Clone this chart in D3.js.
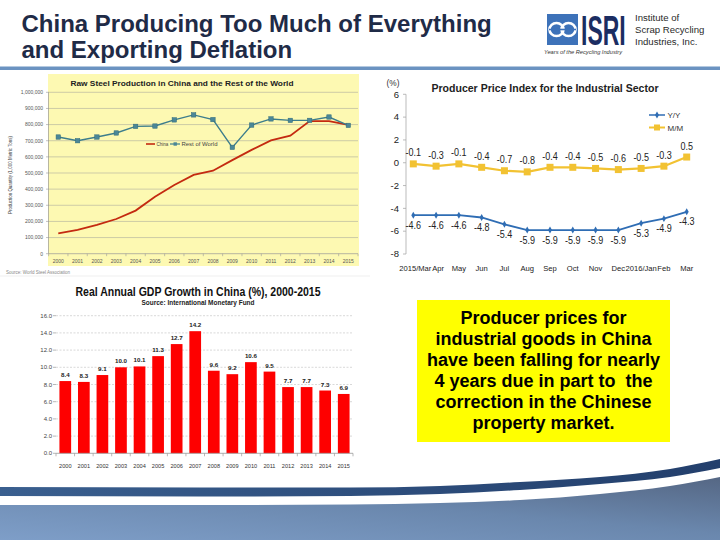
<!DOCTYPE html>
<html><head><meta charset="utf-8">
<script src="https://cdn.jsdelivr.net/npm/d3@7"></script>
<style>body{margin:0;background:#fff}svg{display:block}</style>
</head><body>
<svg id="c" width="720" height="540"></svg>
<script>
// ---------- data ----------
const titleLines = ["China Producing Too Much of Everything", "and Exporting Deflation"];
const logoLines = ["Institute of", "Scrap Recycling", "Industries, Inc."];

const steelYears = ["2000","2001","2002","2003","2004","2005","2006","2007","2008","2009","2010","2011","2012","2013","2014","2015"];
const steelChina = [126000,147000,178000,215000,267000,353000,426000,488000,514000,580000,643000,702000,731000,822000,822000,798000];
const steelRest  = [723000,700000,723000,748000,789000,791000,829000,860000,831000,659000,797000,835000,826000,826000,847000,795000];
const steelTicks = [0,100000,200000,300000,400000,500000,600000,700000,800000,900000,1000000];
const steelSeries = ["China", "Rest of World"];

const gdpYears = ["2000","2001","2002","2003","2004","2005","2006","2007","2008","2009","2010","2011","2012","2013","2014","2015"];
const gdpValues = [8.4,8.3,9.1,10.0,10.1,11.3,12.7,14.2,9.6,9.2,10.6,9.5,7.7,7.7,7.3,6.9];
const gdpTicks = [0,2,4,6,8,10,12,14,16];

const ppiMonths = ["2015/Mar","Apr","May","Jun","Jul","Aug","Sep","Oct","Nov","Dec","2016/Jan","Feb","Mar"];
const ppiYoY = [-4.6,-4.6,-4.6,-4.8,-5.4,-5.9,-5.9,-5.9,-5.9,-5.9,-5.3,-4.9,-4.3];
const ppiMoM = [-0.1,-0.3,-0.1,-0.4,-0.7,-0.8,-0.4,-0.4,-0.5,-0.6,-0.5,-0.3,0.5];
const ppiTicks = [-8,-6,-4,-2,0,2,4,6];
const ppiSeries = ["Y/Y", "M/M"];

const noteLines = ["Producer prices for","industrial goods in China","have been falling for nearly","4 years due in part to  the","correction in the Chinese","property market."];

// ---------- setup ----------
const svg = d3.select("#c");
const FONT = "Liberation Sans, Arial, sans-serif";
const defs = svg.append("defs");
const f1 = v => d3.format(".1f")(v).replace("\u2212","-");
function condense(sel, k){
  sel.each(function(){ const w = this.getComputedTextLength(); d3.select(this).attr("textLength", w*k).attr("lengthAdjust","spacingAndGlyphs"); });
}

// ---------- header ----------
svg.selectAll("text.title").data(titleLines).join("text")
  .attr("class","title").attr("x",21.5).attr("y",(d,i)=>31.5+i*26)
  .attr("font-family",FONT).attr("font-weight","bold").attr("font-size",24)
  .attr("fill","#1f2b47").text(d=>d);
svg.append("rect").attr("x",0).attr("y",66.5).attr("width",720).attr("height",3.5).attr("fill","#6b93c1");

// logo
svg.append("rect").attr("x",547).attr("y",14).attr("width",31).attr("height",31).attr("fill","#3d72b9");
[556.5,568.5].forEach(cx=>svg.append("ellipse").attr("cx",cx).attr("cy",29.5).attr("rx",7).attr("ry",6.5)
  .attr("fill","none").attr("stroke","#fff").attr("stroke-width",2.6));
svg.append("rect").attr("x",549).attr("y",28.7).attr("width",27).attr("height",1.6).attr("fill","#3d72b9");
svg.append("text").attr("transform","translate(581,45) scale(1.07,2)").attr("font-family",FONT).attr("font-weight","bold")
  .attr("font-size",21.5).attr("fill","#1b2d62").text("ISRI");
svg.append("text").attr("x",544).attr("y",53.5).attr("font-family",FONT).attr("font-style","italic")
  .attr("font-size",4.6).attr("textLength",78).attr("lengthAdjust","spacingAndGlyphs").attr("fill","#333").text("Years of the Recycling Industry");
svg.selectAll("text.logo").data(logoLines).join("text").attr("class","logo")
  .attr("x",635).attr("y",(d,i)=>21+i*12.2).attr("font-family",FONT).attr("font-size",9.6).attr("fill","#2a2a2a").text(d=>d);

// ---------- steel chart ----------
(function(){
  const g = svg.append("g");
  g.append("rect").attr("x",48).attr("y",74).attr("width",311).attr("height",192).attr("fill","#fdf9b2");
  const x = d3.scalePoint().domain(steelYears).range([48.6,358]).padding(0.5);
  const y = d3.scaleLinear().domain([0,1000000]).range([253.7,92.3]);
  g.append("text").attr("x",182).attr("y",86).attr("text-anchor","middle").attr("font-family",FONT)
    .attr("font-weight","bold").attr("font-size",8).attr("textLength",223).attr("lengthAdjust","spacingAndGlyphs")
    .attr("fill","#222").text("Raw Steel Production in China and the Rest of the World");
  g.selectAll("line.grid").data(steelTicks.slice(1)).join("line").attr("class","grid")
    .attr("x1",48).attr("x2",358).attr("y1",d=>y(d)).attr("y2",d=>y(d)).attr("stroke","#b9b7a0").attr("stroke-width",0.7);
  g.selectAll("line.lt").data(steelTicks).join("line").attr("class","lt")
    .attr("x1",46).attr("x2",48.5).attr("y1",d=>y(d)).attr("y2",d=>y(d)).attr("stroke","#999").attr("stroke-width",0.6);
  g.append("line").attr("x1",48.5).attr("x2",48.5).attr("y1",y(1000000)).attr("y2",y(0)).attr("stroke","#999").attr("stroke-width",0.7);
  g.append("line").attr("x1",48.5).attr("x2",358).attr("y1",y(0)).attr("y2",y(0)).attr("stroke","#999").attr("stroke-width",0.7);
  g.selectAll("line.bt").data(d3.range(steelYears.length+1)).join("line").attr("class","bt")
    .attr("x1",i=>48.6+i*x.step()).attr("x2",i=>48.6+i*x.step()).attr("y1",y(0)).attr("y2",y(0)+2.5).attr("stroke","#999").attr("stroke-width",0.6);
  g.selectAll("text.yl").data(steelTicks).join("text").attr("class","yl")
    .attr("x",43).attr("y",d=>y(d)+1.8).attr("text-anchor","end").attr("font-family",FONT).attr("font-size",5)
    .attr("fill","#555").text(d=>d3.format(",")(d));
  g.selectAll("text.xl").data(steelYears).join("text").attr("class","xl")
    .attr("x",d=>x(d)).attr("y",263).attr("text-anchor","middle").attr("font-family",FONT).attr("font-size",5)
    .attr("fill","#555").text(d=>d);
  g.append("text").attr("transform","translate(12,175) rotate(-90)").attr("text-anchor","middle")
    .attr("font-family",FONT).attr("font-size",5).attr("textLength",78).attr("lengthAdjust","spacingAndGlyphs")
    .attr("fill","#444").text("Production Quantity (1,000 Metric Tons)");
  g.append("text").attr("x",6).attr("y",274).attr("font-family",FONT).attr("font-size",4.5).attr("fill","#888")
    .text("Source:  World Steel Association");
  g.append("line").attr("x1",0).attr("x2",370).attr("y1",276).attr("y2",276).attr("stroke","#e4e4e4").attr("stroke-width",0.6);

  const line = d3.line().x((d,i)=>x(steelYears[i])).y(d=>y(d));
  g.append("path").datum(steelChina).attr("d",line).attr("fill","none").attr("stroke","#c42a10").attr("stroke-width",1.8);
  g.append("path").datum(steelRest).attr("d",line).attr("fill","none").attr("stroke","#3d7d8c").attr("stroke-width",1.4);
  g.selectAll("rect.mk").data(steelRest).join("rect").attr("class","mk")
    .attr("x",(d,i)=>x(steelYears[i])-2.2).attr("y",d=>y(d)-2.2).attr("width",4.4).attr("height",4.4)
    .attr("fill","#4b8797").attr("stroke","#2f6a7a").attr("stroke-width",0.5);
  // legend
  g.append("line").attr("x1",146).attr("x2",155).attr("y1",144).attr("y2",144).attr("stroke","#c42a10").attr("stroke-width",1.6);
  g.append("text").attr("x",156.5).attr("y",145.6).attr("font-family",FONT).attr("font-size",4.5).attr("fill","#444").text(steelSeries[0]);
  g.append("line").attr("x1",170).attr("x2",180).attr("y1",144).attr("y2",144).attr("stroke","#3d7d8c").attr("stroke-width",1.2);
  g.append("rect").attr("x",173.5).attr("y",142.3).attr("width",3.4).attr("height",3.4).attr("fill","#4b8797");
  g.append("text").attr("x",181.5).attr("y",145.6).attr("font-family",FONT).attr("font-size",4.5).attr("textLength",36)
    .attr("lengthAdjust","spacingAndGlyphs").attr("fill","#444").text(steelSeries[1]);
})();

// ---------- GDP chart ----------
(function(){
  const g = svg.append("g");
  const x = d3.scaleBand().domain(gdpYears).range([56,353]).paddingInner(0.37).paddingOuter(0.185);
  const y = d3.scaleLinear().domain([0,16]).range([453.3,315.7]);
  g.append("text").attr("x",198).attr("y",296).attr("text-anchor","middle").attr("font-family",FONT)
    .attr("font-weight","bold").attr("font-size",12).attr("textLength",245).attr("lengthAdjust","spacingAndGlyphs")
    .attr("fill","#111").text("Real Annual GDP Growth in China (%), 2000-2015");
  g.append("text").attr("x",198).attr("y",305.3).attr("text-anchor","middle").attr("font-family",FONT)
    .attr("font-weight","bold").attr("font-size",7).attr("textLength",113).attr("lengthAdjust","spacingAndGlyphs")
    .attr("fill","#222").text("Source: International Monetary Fund");
  g.selectAll("line.grid").data(gdpTicks.slice(1)).join("line").attr("class","grid")
    .attr("x1",56).attr("x2",353).attr("y1",d=>y(d)).attr("y2",d=>y(d))
    .attr("stroke","#c8c8c8").attr("stroke-width",0.7).attr("stroke-dasharray","2,1.5");
  g.selectAll("line.lt").data(gdpTicks).join("line").attr("class","lt")
    .attr("x1",53).attr("x2",56).attr("y1",d=>y(d)).attr("y2",d=>y(d)).attr("stroke","#999").attr("stroke-width",0.7);
  g.selectAll("text.yl").data(gdpTicks).join("text").attr("class","yl")
    .attr("x",52).attr("y",d=>y(d)+2).attr("text-anchor","end").attr("font-family",FONT).attr("font-size",6)
    .attr("fill","#444").text(d=>f1(d));
  g.selectAll("rect.bar").data(gdpValues).join("rect").attr("class","bar")
    .attr("x",(d,i)=>x(gdpYears[i])).attr("width",x.bandwidth()).attr("y",d=>y(d)).attr("height",d=>y(0)-y(d))
    .attr("fill","#fe0000");
  g.append("line").attr("x1",56).attr("x2",353).attr("y1",y(0)).attr("y2",y(0)).attr("stroke","#999").attr("stroke-width",0.8);
  g.selectAll("line.bt").data(d3.range(gdpYears.length+1)).join("line").attr("class","bt")
    .attr("x1",i=>56+i*x.step()).attr("x2",i=>56+i*x.step()).attr("y1",y(0)).attr("y2",y(0)+3).attr("stroke","#999").attr("stroke-width",0.7);
  g.selectAll("text.dl").data(gdpValues).join("text").attr("class","dl")
    .attr("x",(d,i)=>x(gdpYears[i])+x.bandwidth()/2).attr("y",d=>y(d)-4).attr("text-anchor","middle")
    .attr("font-family",FONT).attr("font-weight","bold").attr("font-size",6.2).attr("fill","#222").text(d=>f1(d));
  g.selectAll("text.xl").data(gdpYears).join("text").attr("class","xl")
    .attr("x",d=>x(d)+x.bandwidth()/2).attr("y",468).attr("text-anchor","middle").attr("font-family",FONT)
    .attr("font-size",5.6).attr("fill","#333").text(d=>d);
})();

// ---------- PPI chart ----------
(function(){
  const g = svg.append("g");
  const idx = d3.range(ppiMonths.length);
  const x = d3.scalePoint().domain(idx).range([413.3,686.7]);
  const y = d3.scaleLinear().domain([-8,6]).range([254,94.3]);
  g.append("text").attr("x",545).attr("y",92).attr("text-anchor","middle").attr("font-family",FONT)
    .attr("font-weight","bold").attr("font-size",10.5).attr("textLength",227).attr("lengthAdjust","spacingAndGlyphs")
    .attr("fill","#222").text("Producer Price Index for the Industrial Sector");
  g.append("text").attr("x",386.5).attr("y",86.3).attr("font-family",FONT).attr("font-size",8.3).attr("fill","#333").text("(%)");
  g.append("line").attr("x1",406).attr("x2",406).attr("y1",y(6)).attr("y2",y(-8)).attr("stroke","#aaa").attr("stroke-width",0.8);
  g.selectAll("line.lt").data(ppiTicks).join("line").attr("class","lt")
    .attr("x1",403).attr("x2",406).attr("y1",d=>y(d)).attr("y2",d=>y(d)).attr("stroke","#aaa").attr("stroke-width",0.8);
  g.selectAll("text.yl").data(ppiTicks).join("text").attr("class","yl")
    .attr("x",399).attr("y",d=>y(d)+3.3).attr("text-anchor","end").attr("font-family",FONT).attr("font-size",9.5)
    .attr("fill","#222").text(d=>d);
  g.selectAll("text.xl").data(ppiMonths).join("text").attr("class","xl")
    .attr("x",(d,i)=>x(i)+(i<2?2:0)).attr("y",270.5).attr("text-anchor","middle").attr("font-family",FONT)
    .attr("font-size",7.6).attr("fill","#222").text(d=>d);

  const line = d3.line().x((d,i)=>x(i)).y(d=>y(d));
  g.append("path").datum(ppiMoM).attr("d",line).attr("fill","none").attr("stroke","#f2c232").attr("stroke-width",2.2);
  g.selectAll("rect.mk").data(ppiMoM).join("rect").attr("class","mk")
    .attr("x",(d,i)=>x(i)-3.5).attr("y",d=>y(d)-3.5).attr("width",7).attr("height",7).attr("fill","#f2c232");
  g.append("path").datum(ppiYoY).attr("d",line).attr("fill","none").attr("stroke","#2f6db4").attr("stroke-width",1.8);
  const diamond = d3.symbol().type(d3.symbolDiamond).size(14);
  g.selectAll("path.mk").data(ppiYoY).join("path").attr("class","mk")
    .attr("transform",(d,i)=>`translate(${x(i)},${y(d)})`).attr("d",diamond).attr("fill","#2f6db4");
  g.selectAll("text.ml").data(ppiMoM).join("text").attr("class","ml")
    .attr("x",(d,i)=>x(i)).attr("y",d=>y(d)-7.5).attr("text-anchor","middle").attr("font-family",FONT)
    .attr("font-size",10).attr("fill","#222").text(d=>f1(d)).call(condense, 0.9);
  g.selectAll("text.yyl").data(ppiYoY).join("text").attr("class","yyl")
    .attr("x",(d,i)=>x(i)).attr("y",d=>y(d)+13.5).attr("text-anchor","middle").attr("font-family",FONT)
    .attr("font-size",10).attr("fill","#222").text(d=>f1(d)).call(condense, 0.9);
  // legend
  g.append("line").attr("x1",649).attr("x2",665).attr("y1",115).attr("y2",115).attr("stroke","#2f6db4").attr("stroke-width",1.5);
  g.append("path").attr("transform","translate(657,115)").attr("d",diamond).attr("fill","#2f6db4");
  g.append("text").attr("x",667.5).attr("y",118.3).attr("font-family",FONT).attr("font-size",8).attr("fill","#333").text(ppiSeries[0]);
  g.append("line").attr("x1",649).attr("x2",665).attr("y1",127.5).attr("y2",127.5).attr("stroke","#f2c232").attr("stroke-width",2);
  g.append("rect").attr("x",654).attr("y",124.5).attr("width",6).attr("height",6).attr("fill","#f2c232");
  g.append("text").attr("x",667.5).attr("y",130.8).attr("font-family",FONT).attr("font-size",8).attr("fill","#333").text(ppiSeries[1]);
})();

// ---------- note box ----------
svg.append("rect").attr("x",417).attr("y",300).attr("width",253).attr("height",142).attr("fill","#ffff00");
svg.selectAll("text.note").data(noteLines).join("text").attr("class","note")
  .attr("x",543.5).attr("y",(d,i)=>323.5+i*21.1).attr("text-anchor","middle").attr("font-family",FONT)
  .attr("font-weight","bold").attr("font-size",18).attr("fill","#000").style("white-space","pre").text(d=>d);

// ---------- bottom swoosh ----------
const gBg = defs.append("linearGradient").attr("id","bg").attr("x1","0").attr("y1","1").attr("x2","1").attr("y2","0");
gBg.append("stop").attr("offset","0").attr("stop-color","#7e9ec8");
gBg.append("stop").attr("offset","0.55").attr("stop-color","#6a87ad");
gBg.append("stop").attr("offset","1").attr("stop-color","#556784");
const gSt = defs.append("linearGradient").attr("id","st").attr("x1","0").attr("y1","0").attr("x2","1").attr("y2","0");
gSt.append("stop").attr("offset","0").attr("stop-color","#3a5f8f");
gSt.append("stop").attr("offset","1").attr("stop-color","#233f6c");
const curve = d3.line().curve(d3.curveMonotoneX);
const bgTop = [[0,505],[200,505],[350,504.5],[440,503],[520,500],[600,494],[670,486],[720,477]];
svg.append("path").attr("d", curve(bgTop) + "L720,540L0,540Z").attr("fill","url(#bg)");
const stTop = [[0,487],[200,487.5],[350,487.5],[440,486],[520,482],[600,477],[670,469],[720,459]];
const stBot = [[0,496],[200,496.5],[350,496],[440,494],[520,490],[600,484],[670,477],[720,468]];
svg.append("path").attr("d", curve(stTop) + "L" + curve(stBot.slice().reverse()).slice(1) + "Z")
  .attr("fill","url(#st)");
</script>
</body></html>
